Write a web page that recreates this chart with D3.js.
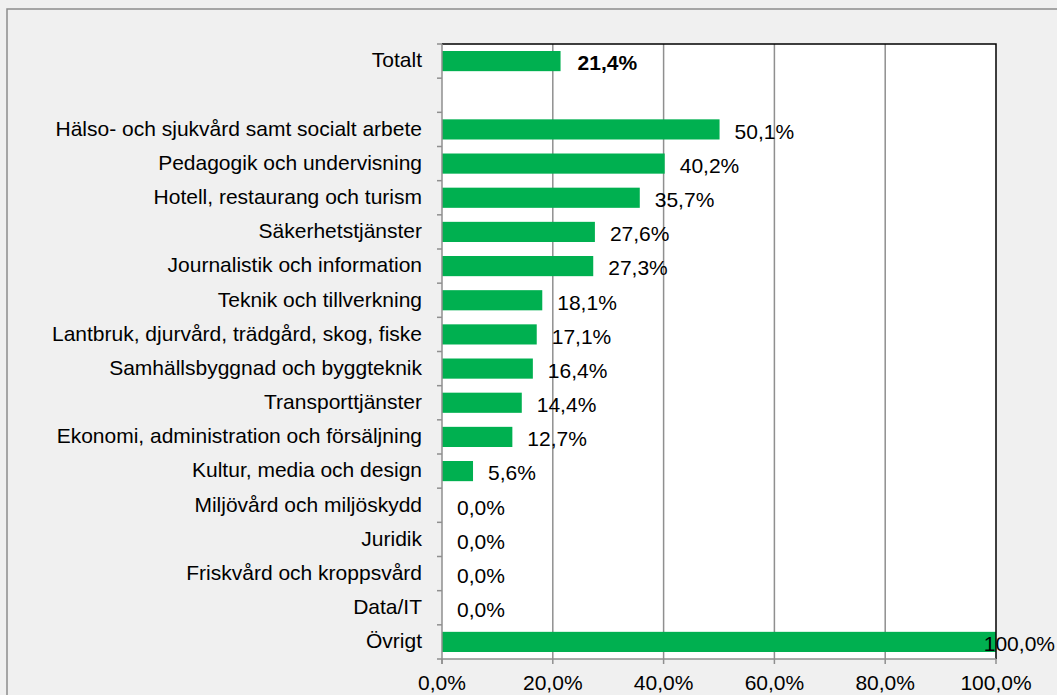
<!DOCTYPE html>
<html>
<head>
<meta charset="utf-8">
<script src="https://cdn.jsdelivr.net/npm/d3@7"></script>
<style>
  body { margin: 0; background: #f0f0f0; }
  text { font-family: "Liberation Sans", Arial, sans-serif; }
</style>
</head>
<body>
<div id="chart"></div>
<script>
// Andel per yrkesområde
const categories = [
    "Totalt", "",
    "Hälso- och sjukvård samt socialt arbete",
    "Pedagogik och undervisning",
    "Hotell, restaurang och turism",
    "Säkerhetstjänster",
    "Journalistik och information",
    "Teknik och tillverkning",
    "Lantbruk, djurvård, trädgård, skog, fiske",
    "Samhällsbyggnad och byggteknik",
    "Transporttjänster",
    "Ekonomi, administration och försäljning",
    "Kultur, media och design",
    "Miljövård och miljöskydd",
    "Juridik",
    "Friskvård och kroppsvård",
    "Data/IT",
    "Övrigt"
];
const values = [21.4, null, 50.1, 40.2, 35.7, 27.6, 27.3, 18.1, 17.1, 16.4, 14.4, 12.7, 5.6, 0, 0, 0, 0, 100];
const xTicks = [0, 20, 40, 60, 80, 100];

const width = 1057;
const height = 695;
const margin = { top: 44, right: 61, bottom: 36, left: 442 };
const plotWidth = width - margin.left - margin.right;
const plotHeight = height - margin.top - margin.bottom;
const fontSize = "21px";

const fmt = v => d3.format(".1f")(v).replace(".", ",") + "%";

const svgRoot = d3.select("#chart")
    .append("svg")
    .attr("width", width)
    .attr("height", height);

// outer chart frame
svgRoot.append("rect")
    .attr("x", 7).attr("y", 9)
    .attr("width", width + 10).attr("height", height + 10)
    .attr("fill", "#f0f0f0")
    .attr("stroke", "#8c8c8c")
    .attr("stroke-width", 1.5);

const svg = svgRoot.append("g")
    .attr("transform", `translate(${margin.left},${margin.top})`);

const x = d3.scaleLinear().domain([0, 100]).range([0, plotWidth]);
const y = d3.scaleBand().domain(d3.range(categories.length)).range([0, plotHeight]).paddingInner(0.41).paddingOuter(0.205);
const step = y.step();

// plot area
svg.append("rect")
    .attr("width", plotWidth).attr("height", plotHeight)
    .attr("fill", "#fff");

// gridlines
svg.append("g")
    .selectAll("line")
    .data(xTicks.slice(1, -1))
    .join("line")
    .attr("x1", d => x(d)).attr("x2", d => x(d))
    .attr("y1", 0).attr("y2", plotHeight)
    .attr("stroke", "#8f8f8f")
    .attr("stroke-width", 1.5);

// bars
svg.append("g")
    .selectAll("rect")
    .data(values.map((v, i) => ({ v, i })).filter(d => d.v !== null))
    .join("rect")
    .attr("x", 0)
    .attr("y", d => y(d.i))
    .attr("width", d => x(d.v))
    .attr("height", y.bandwidth())
    .attr("fill", "#00b050");

// top and right border
svg.append("path")
    .attr("d", `M0,0H${plotWidth}V${plotHeight}`)
    .attr("fill", "none")
    .attr("stroke", "#000")
    .attr("stroke-width", 1.5);

// y axis line and ticks
svg.append("line")
    .attr("x1", 0).attr("x2", 0).attr("y1", 0).attr("y2", plotHeight + 5)
    .attr("stroke", "#8f8f8f").attr("stroke-width", 1.5);
svg.append("g")
    .selectAll("line")
    .data(d3.range(categories.length + 1))
    .join("line")
    .attr("x1", -5).attr("x2", 0)
    .attr("y1", d => d * step).attr("y2", d => d * step)
    .attr("stroke", "#8f8f8f").attr("stroke-width", 1.5);

// x axis line and ticks
svg.append("line")
    .attr("x1", 0).attr("x2", plotWidth).attr("y1", plotHeight).attr("y2", plotHeight)
    .attr("stroke", "#8f8f8f").attr("stroke-width", 1.5);
svg.append("g")
    .selectAll("line")
    .data(xTicks)
    .join("line")
    .attr("x1", d => x(d)).attr("x2", d => x(d))
    .attr("y1", plotHeight).attr("y2", plotHeight + 5)
    .attr("stroke", "#8f8f8f").attr("stroke-width", 1.5);

// x tick labels
svg.append("g")
    .selectAll("text")
    .data(xTicks)
    .join("text")
    .attr("x", d => x(d))
    .attr("y", plotHeight + 31)
    .attr("text-anchor", "middle")
    .style("font-size", fontSize)
    .text(d => fmt(d));

// category labels
svg.append("g")
    .selectAll("text")
    .data(categories)
    .join("text")
    .attr("x", -20)
    .attr("y", (d, i) => y(i) + y.bandwidth() / 2)
    .attr("dy", "0.3em")
    .attr("text-anchor", "end")
    .style("font-size", fontSize)
    .text(d => d);

// value labels
const labels = svg.append("g")
    .selectAll("text")
    .data(values.map((v, i) => ({ v, i })).filter(d => d.v !== null))
    .join("text")
    .attr("x", d => x(d.v) + (d.i === 0 ? 17 : 15))
    .attr("y", d => y(d.i) + y.bandwidth() / 2 + 2)
    .attr("dy", "0.35em")
    .style("font-size", fontSize)
    .style("font-weight", d => d.i === 0 ? "bold" : "normal")
    .text(d => fmt(d.v));

// keep labels inside the chart
labels.each(function(d) {
    const w = this.getComputedTextLength();
    const maxX = width - margin.left - 2 - w;
    if (+this.getAttribute("x") > maxX) d3.select(this).attr("x", maxX);
});
</script>
</body>
</html>
